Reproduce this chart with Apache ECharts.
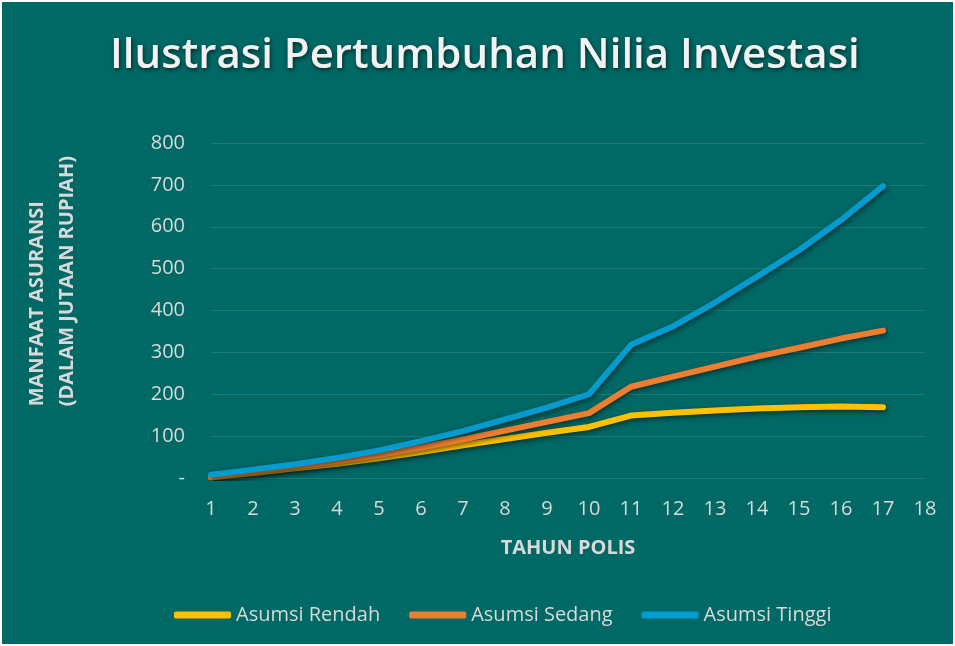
<!DOCTYPE html>
<html>
<head>
<meta charset="utf-8">
<script src="https://cdn.jsdelivr.net/npm/echarts@6/dist/echarts.min.js"></script>
<style>
  html, body { margin: 0; padding: 0; background: #ffffff; }
  #chart { position: absolute; left: 2px; top: 2px; width: 951px; height: 642px; }
</style>
</head>
<body>
<div id="chart"></div>
<script>
const BG = "#006865";
const TEXT = "#d9d9d9";
const FONT = "'Open Sans', 'Noto Sans', sans-serif";

const years = ["1", "2", "3", "4", "5", "6", "7", "8", "9", "10", "11", "12", "13", "14", "15", "16", "17", "18"];
const rendah = [1, 12, 23, 34, 47, 62, 78, 93, 108, 122, 149, 156, 161, 166, 169, 171, 169];
const sedang = [3, 16, 28, 40, 55, 73, 92, 113, 134, 155, 218, 242, 266, 290, 311, 333, 352];
const tinggi = [8, 20, 33, 48, 66, 88, 112, 140, 168, 200, 318, 362, 419, 481, 544, 616, 697];
const yTicks = [0, 100, 200, 300, 400, 500, 600, 700, 800];

const chart = echarts.init(document.getElementById("chart"), null, { renderer: "canvas" });

// garis tebal dengan bayangan gelap seperti gaya Excel
function lineSeries(name, data, color) {
  return {
    name, type: "line", data, symbol: "none", smooth: false,
    lineStyle: { width: 6, color, cap: "round", join: "round", shadowColor: "rgba(0,0,0,0.55)", shadowBlur: 5, shadowOffsetX: 1, shadowOffsetY: 2 },
    itemStyle: { color },
  };
}

chart.setOption({
  backgroundColor: BG,
  animation: false,
  title: {
    text: "Ilustrasi Pertumbuhan Nilia Investasi",
    left: 103, top: 28,
    textStyle: { color: "#f2f2f2", fontFamily: FONT, fontWeight: 600, fontSize: 42, textShadowColor: "rgba(0,0,0,0.6)", textShadowBlur: 4, textShadowOffsetX: 1, textShadowOffsetY: 2 },
  },
  grid: { left: 209, right: 28, top: 141, bottom: 166, containLabel: false },
  legend: {
    left: 167, bottom: 14, itemGap: 29, itemWidth: 57, itemHeight: 7,
    icon: "roundRect",
    textStyle: { color: TEXT, fontFamily: FONT, fontSize: 20 },
    data: ["Asumsi Rendah", "Asumsi Sedang", "Asumsi Tinggi"],
  },
  xAxis: {
    type: "category", data: years, boundaryGap: false,
    name: "TAHUN POLIS", nameLocation: "middle", nameGap: 60,
    nameTextStyle: { color: TEXT, fontFamily: FONT, fontWeight: "bold", fontSize: 20 },
    axisLine: { show: false }, axisTick: { show: false },
    axisLabel: { color: TEXT, fontFamily: FONT, fontSize: 20, margin: 21 },
    splitLine: { show: false },
  },
  yAxis: {
    type: "value", min: yTicks[0], max: yTicks[yTicks.length - 1], interval: 100,
    axisLine: { show: false }, axisTick: { show: false },
    axisLabel: { color: TEXT, fontFamily: FONT, fontSize: 20, margin: 26, formatter: (v) => (v === 0 ? "-" : String(v)) },
    splitLine: { lineStyle: { color: "#1f7a77", width: 1 } },
  },
  graphic: [{
    type: "text", left: 20, top: 154, rotation: Math.PI / 2,
    style: { text: "MANFAAT ASURANSI\n(DALAM JUTAAN RUPIAH)", fill: TEXT, font: "bold 20px " + FONT, align: "center", lineHeight: 30 },
  }],
  series: [
    lineSeries("Asumsi Rendah", rendah, "#ffc000"),
    lineSeries("Asumsi Sedang", sedang, "#ed7d31"),
    lineSeries("Asumsi Tinggi", tinggi, "#069bcf"),
  ],
});
</script>
</body>
</html>
